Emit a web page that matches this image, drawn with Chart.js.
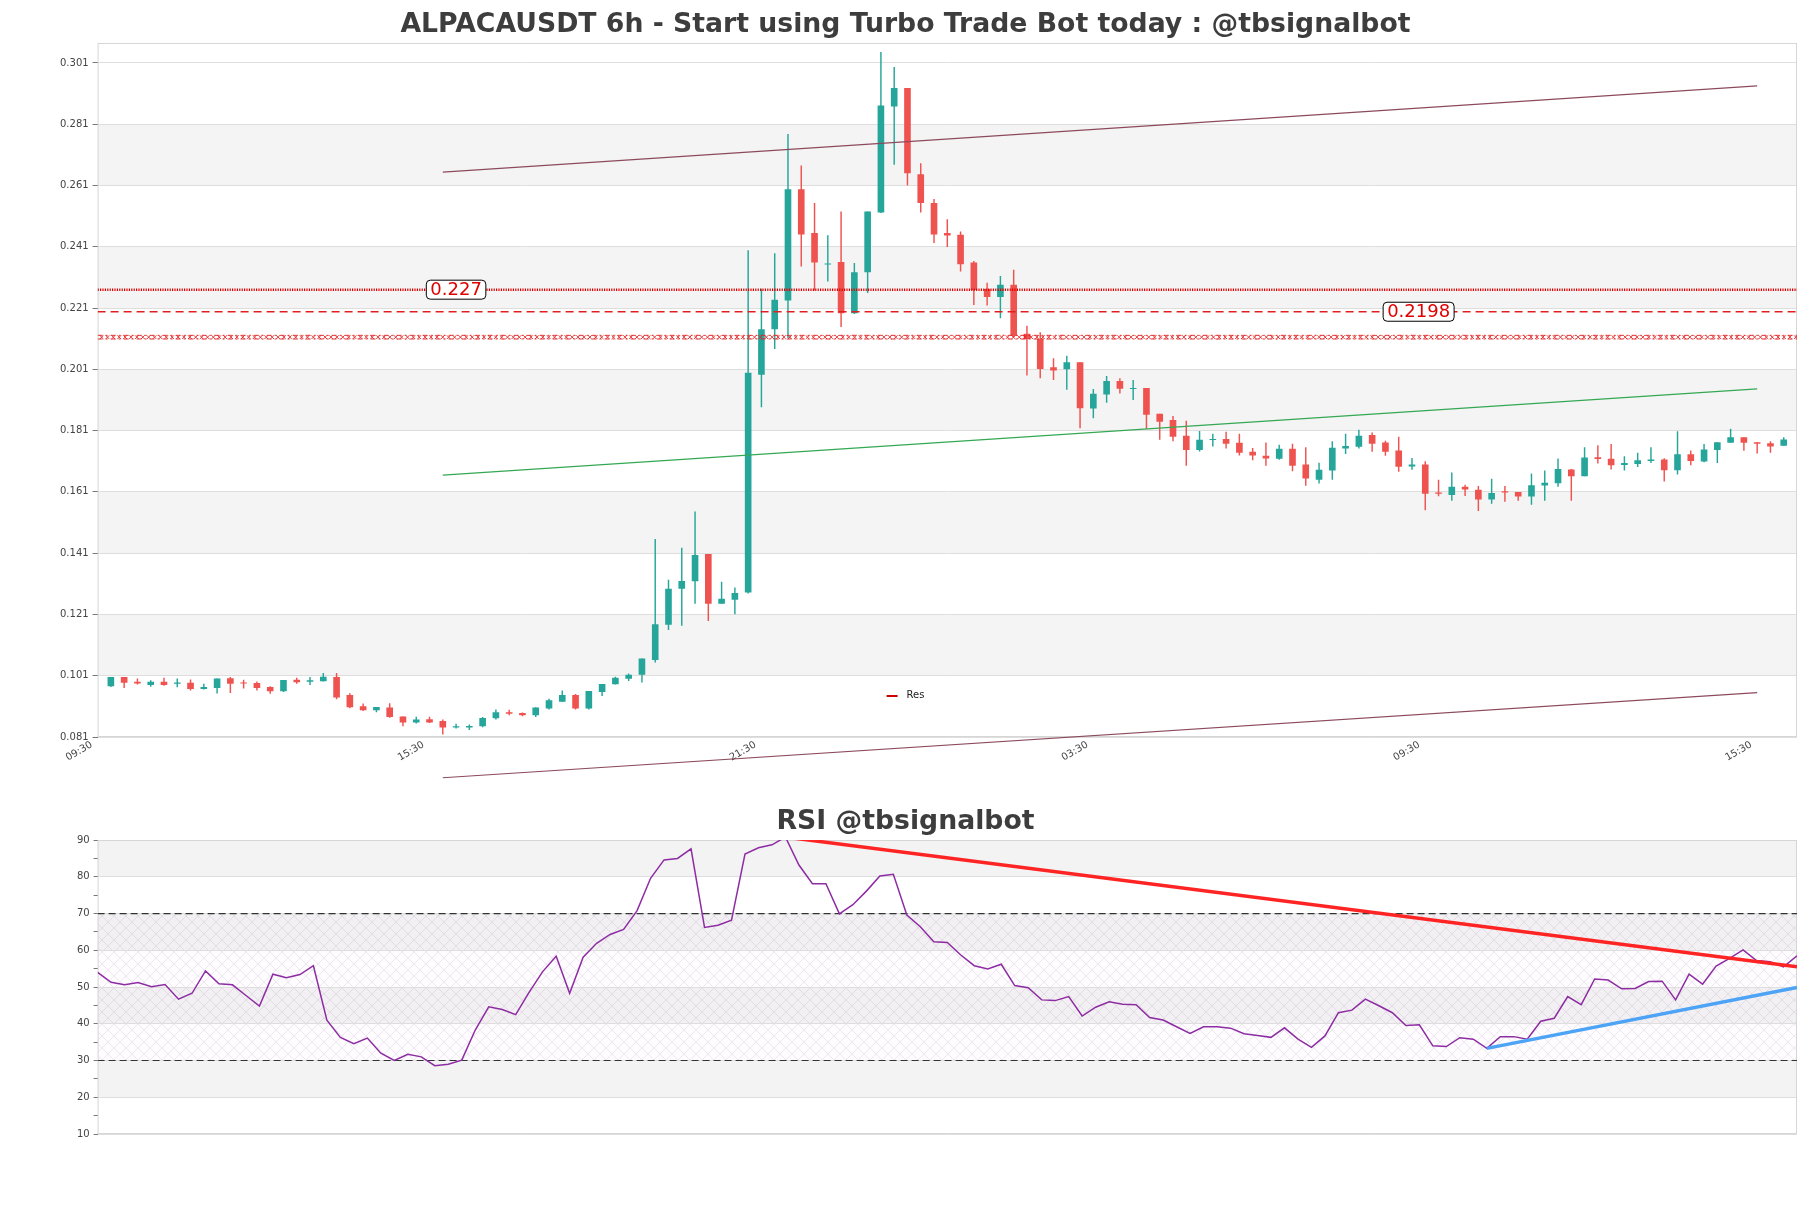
<!DOCTYPE html>
<html>
<head>
<meta charset="utf-8">
<script src="https://cdn.jsdelivr.net/npm/chart.js@4.4.1/dist/chart.umd.min.js"></script>
<style>
  body { margin: 0; background: #fff; }
  #pricebox { position: absolute; left: 0; top: 0; width: 1811px; height: 790px; }
  #rsibox { position: absolute; left: 0; top: 790px; width: 1811px; height: 418px; }
</style>
</head>
<body>
<div id="pricebox"><canvas id="priceChart"></canvas></div>
<div id="rsibox"><canvas id="rsiChart"></canvas></div>
<script>
// 6h candles
const OPEN = [0.0976,0.1006,0.0990,0.0980,0.0990,0.0984,0.0987,0.0967,0.0970,0.1002,
  0.0988,0.0986,0.0973,0.0959,0.0997,0.0990,0.0992,0.1006,0.0947,0.0910,
  0.0897,0.0906,0.0877,0.0857,0.0868,0.0862,0.0841,0.0841,0.0845,0.0871,
  0.0891,0.0888,0.0881,0.0903,0.0925,0.0947,0.0903,0.0957,0.0982,0.1000,
  0.1013,0.1061,0.1176,0.1294,0.1318,0.1407,0.1245,0.1258,0.1282,0.1992,
  0.2141,0.2235,0.2598,0.2455,0.2352,0.2360,0.2193,0.2327,0.2522,0.2868,
  0.2928,0.2647,0.2553,0.2455,0.2449,0.2359,0.2272,0.2246,0.2286,0.2126,
  0.2109,0.2017,0.2010,0.2033,0.1882,0.1928,0.1972,0.1946,0.1949,0.1865,
  0.1845,0.1793,0.1747,0.1779,0.1783,0.1770,0.1741,0.1728,0.1718,0.1751,
  0.1699,0.1650,0.1680,0.1752,0.1757,0.1796,0.1771,0.1745,0.1693,0.1699,
  0.1608,0.1600,0.1627,0.1617,0.1585,0.1612,0.1610,0.1595,0.1631,0.1638,
  0.1683,0.1661,0.1723,0.1718,0.1698,0.1701,0.1711,0.1716,0.1681,0.1733,
  0.1709,0.1747,0.1770,0.1788,0.1772,0.1769,0.1761];
const HIGH = [0.1006,0.1006,0.1001,0.0995,0.1003,0.1001,0.0998,0.0984,0.1001,0.1006,
  0.0997,0.0991,0.0976,0.0996,0.1003,0.1006,0.1019,0.1019,0.0953,0.0919,
  0.0908,0.0920,0.0877,0.0876,0.0876,0.0867,0.0853,0.0851,0.0875,0.0900,
  0.0899,0.0890,0.0907,0.0935,0.0962,0.0950,0.0960,0.0983,0.1007,0.1017,
  0.1066,0.1456,0.1323,0.1428,0.1546,0.1407,0.1317,0.1298,0.2399,0.2273,
  0.2389,0.2778,0.2675,0.2553,0.2448,0.2525,0.2357,0.2525,0.3046,0.2997,
  0.2928,0.2683,0.2566,0.2500,0.2460,0.2364,0.2293,0.2315,0.2335,0.2152,
  0.2131,0.2046,0.2054,0.2033,0.1946,0.1988,0.1981,0.1975,0.1949,0.1865,
  0.1858,0.1842,0.1809,0.1800,0.1806,0.1800,0.1753,0.1771,0.1764,0.1767,
  0.1756,0.1705,0.1775,0.1800,0.1813,0.1804,0.1777,0.1790,0.1721,0.1710,
  0.1650,0.1673,0.1633,0.1629,0.1653,0.1629,0.1610,0.1670,0.1680,0.1719,
  0.1685,0.1756,0.1762,0.1766,0.1726,0.1738,0.1756,0.1720,0.1808,0.1745,
  0.1766,0.1772,0.1816,0.1788,0.1772,0.1775,0.1788];
const LOW = [0.0973,0.0970,0.0981,0.0974,0.0977,0.0972,0.0962,0.0965,0.0952,0.0954,
  0.0968,0.0962,0.0951,0.0957,0.0984,0.0980,0.0991,0.0933,0.0904,0.0895,
  0.0891,0.0873,0.0845,0.0854,0.0856,0.0818,0.0838,0.0833,0.0842,0.0867,
  0.0881,0.0878,0.0875,0.0900,0.0924,0.0900,0.0900,0.0944,0.0981,0.0993,
  0.0988,0.1053,0.1159,0.1173,0.1245,0.1189,0.1245,0.1211,0.1278,0.1886,
  0.2076,0.2112,0.2346,0.2267,0.2297,0.2148,0.2191,0.2259,0.2520,0.2678,
  0.2610,0.2522,0.2422,0.2409,0.2329,0.2220,0.2218,0.2177,0.2115,0.1990,
  0.1981,0.1975,0.1943,0.1818,0.1850,0.1901,0.1931,0.1910,0.1815,0.1780,
  0.1775,0.1695,0.1742,0.1758,0.1752,0.1729,0.1713,0.1695,0.1715,0.1677,
  0.1630,0.1637,0.1650,0.1734,0.1752,0.1741,0.1728,0.1676,0.1682,0.1550,
  0.1596,0.1581,0.1597,0.1548,0.1571,0.1578,0.1581,0.1568,0.1581,0.1627,
  0.1581,0.1661,0.1703,0.1683,0.1680,0.1691,0.1704,0.1644,0.1667,0.1697,
  0.1707,0.1704,0.1770,0.1744,0.1735,0.1738,0.1761];
const CLOSE = [0.1006,0.0987,0.0985,0.0990,0.0980,0.0988,0.0967,0.0973,0.1001,0.0984,
  0.0985,0.0970,0.0959,0.0996,0.0989,0.0995,0.1007,0.0939,0.0907,0.0897,
  0.0908,0.0875,0.0857,0.0867,0.0857,0.0841,0.0845,0.0846,0.0872,0.0891,
  0.0886,0.0881,0.0906,0.0930,0.0947,0.0903,0.0960,0.0983,0.1003,0.1013,
  0.1066,0.1178,0.1294,0.1319,0.1404,0.1245,0.1261,0.1280,0.1999,0.2141,
  0.2237,0.2598,0.2450,0.2359,0.2355,0.2193,0.2327,0.2525,0.2871,0.2928,
  0.2650,0.2553,0.2450,0.2447,0.2353,0.2269,0.2246,0.2286,0.2120,0.2109,
  0.2011,0.2006,0.2033,0.1883,0.1930,0.1972,0.1947,0.1949,0.1862,0.1839,
  0.1790,0.1747,0.1780,0.1783,0.1767,0.1738,0.1729,0.1719,0.1751,0.1695,
  0.1654,0.1682,0.1754,0.1760,0.1793,0.1767,0.1741,0.1692,0.1699,0.1604,
  0.1604,0.1627,0.1618,0.1585,0.1606,0.1608,0.1595,0.1632,0.1640,0.1685,
  0.1661,0.1722,0.1717,0.1697,0.1704,0.1713,0.1716,0.1681,0.1733,0.1711,
  0.1748,0.1772,0.1788,0.1770,0.1767,0.1758,0.1781];

const RSI = [54.0,51.3,50.6,51.2,50.1,50.7,46.7,48.3,54.4,50.9,
  50.6,47.7,44.8,53.5,52.5,53.4,55.8,41.0,36.3,34.6,
  36.1,32.0,30.0,31.7,31.0,28.6,29.0,30.1,38.3,44.6,
  43.9,42.5,48.6,54.2,58.4,48.3,58.1,61.9,64.3,65.7,
  70.8,79.6,84.6,85.0,87.6,66.2,66.8,68.2,86.2,87.9,
  88.7,90.8,83.2,78.1,78.1,69.9,72.4,76.1,80.2,80.7,
  69.6,66.4,62.3,62.1,58.7,55.8,54.9,56.2,50.4,49.8,
  46.5,46.3,47.4,42.1,44.5,46.0,45.3,45.2,41.7,41.0,
  39.2,37.4,39.2,39.2,38.8,37.3,36.8,36.3,38.9,35.8,
  33.6,36.7,43.0,43.7,46.7,44.9,43.0,39.5,39.7,34.0,
  33.8,36.2,35.8,33.3,36.5,36.5,35.8,40.7,41.5,47.4,
  45.2,52.2,51.9,49.5,49.6,51.5,51.6,46.5,53.5,50.8,
  55.7,57.8,60.1,57.2,56.9,55.5,58.5];

// axis ticks
const PRICE_TICKS = [0.081,0.101,0.121,0.141,0.161,0.181,0.201,0.221,0.241,0.261,0.281,0.301];
const TIME_LABELS = ['09:30','15:30','21:30','03:30','09:30','15:30'];
const TIME_TICK_AT = [-1.45,23.55,48.55,73.55,98.55,123.55];
const RSI_GRID = [10,20,30,40,50,60,70,80,90];

// levels and trend lines
const RES_LEVEL = 0.227;
const MID_LEVEL = 0.2198;
const SUP_ZONE = [0.2109,0.2121];
const LEVEL_LABEL_AT = [26, 98.5];
const CHANNEL_TOP = [[25,0.2654],[124,0.2935]];
const CHANNEL_MID = [[25,0.1665],[124,0.1946]];
const CHANNEL_LOW = [[25,0.0677],[124,0.0955]];
const RSI_DOWN = [[51,90.8],[126,55.5]];
const RSI_UP = [[103,33.3],[126,49.9]];

const UP = '#26a69a', DOWN = '#ef5350';
const FONT = "'DejaVu Sans', sans-serif";

const pts = arr => arr.map(p => ({x: p[0], y: p[1]}));
const candleColors = CLOSE.map((c, i) => c >= OPEN[i] ? UP : DOWN);

// alternating bands between ticks + optional hatch
const bands = {
  id: 'bands',
  beforeDraw(chart, args, opts) {
    const {ctx, chartArea: a} = chart;
    const y = chart.scales.y;
    const t = opts.ticks;
    ctx.save();
    ctx.fillStyle = opts.color;
    for (let k = 1; k < t.length - 1; k += 2) {
      const top = y.getPixelForValue(t[k + 1]);
      const bot = y.getPixelForValue(t[k]);
      ctx.fillRect(a.left, top, a.right - a.left, bot - top);
    }
    if (opts.hatch) {
      const top = y.getPixelForValue(opts.hatch[1]);
      const bot = y.getPixelForValue(opts.hatch[0]);
      const c = document.createElement('canvas');
      c.width = 12; c.height = 12;
      const g = c.getContext('2d');
      g.strokeStyle = 'rgba(150,135,170,0.22)';
      g.lineWidth = 0.8;
      g.beginPath();
      g.moveTo(0, 0); g.lineTo(12, 12);
      g.moveTo(12, 0); g.lineTo(0, 12);
      g.stroke();
      ctx.fillStyle = 'rgba(128,0,128,0.012)';
      ctx.fillRect(a.left, top, a.right - a.left, bot - top);
      ctx.fillStyle = ctx.createPattern(c, 'repeat');
      ctx.fillRect(a.left, top, a.right - a.left, bot - top);
    }
    ctx.restore();
  }
};

const frame = {
  id: 'frame',
  beforeDatasetsDraw(chart) {
    const {ctx, chartArea: a} = chart;
    ctx.save();
    ctx.strokeStyle = '#d6d6d6';
    ctx.lineWidth = 1;
    ctx.strokeRect(a.left + 0.5, a.top + 0.5, a.right - a.left - 1, a.bottom - a.top - 1);
    ctx.restore();
  }
};

// support zone drawn as a thin band of x marks
const zone = {
  id: 'zone',
  afterDatasetsDraw(chart) {
    const {ctx, chartArea: a} = chart;
    const y = chart.scales.y;
    const top = y.getPixelForValue(SUP_ZONE[1]);
    const bot = y.getPixelForValue(SUP_ZONE[0]);
    const h = bot - top;
    ctx.save();
    ctx.beginPath();
    ctx.rect(a.left, a.top, a.right - a.left, a.bottom - a.top);
    ctx.clip();
    ctx.strokeStyle = '#e02020';
    ctx.lineWidth = 0.9;
    ctx.setLineDash([5, 3, 2, 3]);
    ctx.beginPath();
    ctx.moveTo(a.left, top); ctx.lineTo(a.right, top);
    ctx.moveTo(a.left, bot); ctx.lineTo(a.right, bot);
    ctx.stroke();
    ctx.setLineDash([]);
    ctx.beginPath();
    for (let x = a.left + 4; x < a.right; x += h * 1.6) {
      ctx.moveTo(x - h / 2, top); ctx.lineTo(x + h / 2, bot);
      ctx.moveTo(x + h / 2, top); ctx.lineTo(x - h / 2, bot);
    }
    ctx.stroke();
    ctx.restore();
  }
};

const notes = {
  id: 'notes',
  afterDraw(chart) {
    const {ctx, chartArea: a} = chart;
    const x = chart.scales.x, y = chart.scales.y;
    ctx.save();
    ctx.font = '18px ' + FONT;
    ctx.textAlign = 'center';
    ctx.textBaseline = 'middle';
    [RES_LEVEL, MID_LEVEL].forEach((v, i) => {
      const txt = String(v);
      const px = x.getPixelForValue(LEVEL_LABEL_AT[i]);
      const py = y.getPixelForValue(v);
      const w = ctx.measureText(txt).width + 8, h = 19;
      ctx.beginPath();
      ctx.roundRect(px - w / 2, py - h / 2, w, h, 4);
      ctx.fillStyle = '#fff';
      ctx.fill();
      ctx.strokeStyle = '#000';
      ctx.lineWidth = 1;
      ctx.stroke();
      ctx.fillStyle = '#e00000';
      ctx.fillText(txt, px, py + 1);
    });
    // legend
    const lx = a.left + 789, ly = a.bottom - 41;
    ctx.strokeStyle = '#d00000';
    ctx.lineWidth = 2;
    ctx.beginPath();
    ctx.moveTo(lx, ly); ctx.lineTo(lx + 11, ly);
    ctx.stroke();
    ctx.font = '10px ' + FONT;
    ctx.fillStyle = '#222';
    ctx.textAlign = 'left';
    ctx.fillText('Res', lx + 20, ly - 1);
    ctx.restore();
  }
};

const flatLine = (v, x0, x1) => [{x: x0, y: v}, {x: x1, y: v}];

new Chart(document.getElementById('priceChart'), {
  type: 'bar',
  data: {
    datasets: [
      {type: 'line', label: 'Res', data: flatLine(RES_LEVEL, -1, 127), borderColor: '#e00000',
        borderWidth: 2.6, borderDash: [1.2, 1.2], pointRadius: 0, order: 0},
      {type: 'line', label: 'mid', data: flatLine(MID_LEVEL, -1, 127), borderColor: '#e02020',
        borderWidth: 1.4, borderDash: [8, 5], pointRadius: 0, order: 0},
      {type: 'line', label: 'top', data: pts(CHANNEL_TOP), borderColor: '#8c4a5c',
        borderWidth: 1.2, pointRadius: 0, order: 0},
      {type: 'line', label: 'midtrend', data: pts(CHANNEL_MID), borderColor: '#34a853',
        borderWidth: 1.2, pointRadius: 0, order: 0},
      {type: 'line', label: 'low', data: pts(CHANNEL_LOW), borderColor: '#8c4a5c',
        borderWidth: 1.2, pointRadius: 0, order: 0, clip: false},
      {label: 'wick', data: LOW.map((l, i) => ({x: i, y: [l, HIGH[i]]})),
        backgroundColor: candleColors, barPercentage: 0.11, categoryPercentage: 1,
        grouped: false, order: 2},
      {label: 'body', data: OPEN.map((o, i) => ({x: i, y: [o, CLOSE[i]]})),
        backgroundColor: candleColors, barPercentage: 0.5, categoryPercentage: 1,
        grouped: false, minBarLength: 1, order: 1}
    ]
  },
  options: {
    responsive: true,
    maintainAspectRatio: false,
    animation: false,
    layout: {padding: {left: 14, right: 14, top: 0, bottom: 0}},
    plugins: {
      legend: {display: false},
      tooltip: {enabled: false},
      title: {display: true, text: 'ALPACAUSDT 6h - Start using Turbo Trade Bot today : @tbsignalbot',
        color: '#3d3d3d', font: {family: FONT, size: 26.7, weight: 'bold'}, padding: {top: 9, bottom: 2}},
      bands: {ticks: PRICE_TICKS, color: '#f4f4f4'}
    },
    scales: {
      x: {
        type: 'linear', min: -1, max: 127, offset: false,
        grid: {display: false, drawTicks: false},
        border: {display: false},
        afterBuildTicks(s) { s.ticks = TIME_TICK_AT.map(v => ({value: v})); },
        afterFit(s) { s.height = 53; },
        ticks: {autoSkip: false, minRotation: 30, maxRotation: 30, padding: 2,
          color: '#444', font: {family: FONT, size: 10},
          callback: (v, i) => TIME_LABELS[i]}
      },
      y: {
        min: 0.081, max: 0.3075,
        afterBuildTicks(s) { s.ticks = PRICE_TICKS.map(v => ({value: v})); },
        afterFit(s) { s.width = 83.6; },
        grid: {color: '#dedede', tickColor: '#777', tickLength: 5},
        border: {display: false},
        ticks: {autoSkip: false, padding: 4, color: '#444', font: {family: FONT, size: 10},
          callback: v => v.toFixed(3)}
      }
    }
  },
  plugins: [bands, frame, zone, notes]
});

new Chart(document.getElementById('rsiChart'), {
  type: 'line',
  data: {
    datasets: [
      {data: RSI.map((v, i) => ({x: i, y: v})), borderColor: '#8e2ca3', borderWidth: 1.5,
        pointRadius: 0, order: 2},
      {data: flatLine(70, 0, 126), borderColor: '#333', borderWidth: 1.2, borderDash: [7, 4],
        pointRadius: 0, order: 3},
      {data: flatLine(30, 0, 126), borderColor: '#333', borderWidth: 1.2, borderDash: [7, 4],
        pointRadius: 0, order: 3},
      {data: pts(RSI_DOWN), borderColor: '#ff2424', borderWidth: 3.5, pointRadius: 0, order: 0},
      {data: pts(RSI_UP), borderColor: '#4da3f5', borderWidth: 3.5, pointRadius: 0, order: 0}
    ]
  },
  options: {
    responsive: true,
    maintainAspectRatio: false,
    animation: false,
    layout: {padding: {left: 14, right: 14, top: 0, bottom: 74}},
    plugins: {
      legend: {display: false},
      tooltip: {enabled: false},
      title: {display: true, text: 'RSI @tbsignalbot', color: '#3d3d3d',
        font: {family: FONT, size: 26.7, weight: 'bold'}, padding: {top: 16, bottom: 2}},
      bands: {ticks: RSI_GRID, color: '#f3f3f3', hatch: [30, 70]}
    },
    scales: {
      x: {type: 'linear', min: 0, max: 126, display: false},
      y: {
        min: 10, max: 90,
        afterFit(s) { s.width = 83.6; },
        grid: {color: c => c.tick.value % 10 === 0 ? '#dedede' : 'rgba(0,0,0,0)',
          tickColor: '#777', tickLength: 4},
        border: {display: false},
        ticks: {stepSize: 5, autoSkip: false, padding: 4, color: '#444',
          font: {family: FONT, size: 10},
          callback: v => v % 10 === 0 ? v : ''}
      }
    }
  },
  plugins: [bands, frame]
});
</script>
</body>
</html>
